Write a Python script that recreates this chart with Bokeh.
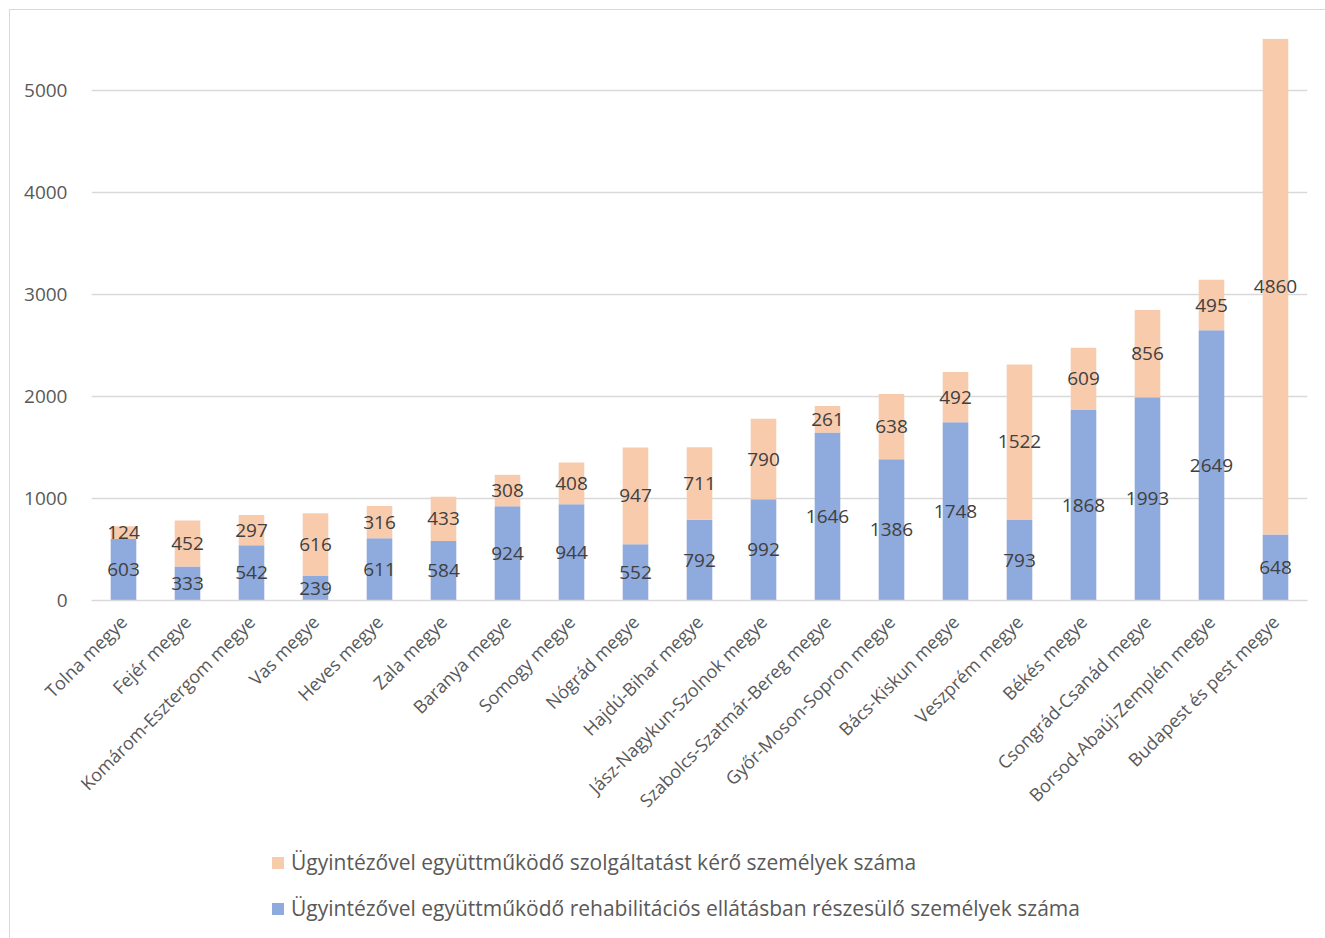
import math
from bokeh.plotting import figure
from bokeh.layouts import column
from bokeh.models import Legend, LegendItem, Range1d, SingleIntervalTicker, ColumnDataSource
from bokeh.embed import file_html
from bokeh.resources import INLINE
from bokeh.core.properties import value

counties = [
    "Tolna megye", "Fejér megye", "Komárom-Esztergom megye", "Vas megye",
    "Heves megye", "Zala megye", "Baranya megye", "Somogy megye",
    "Nógrád megye", "Hajdú-Bihar megye", "Jász-Nagykun-Szolnok megye",
    "Szabolcs-Szatmár-Bereg megye", "Győr-Moson-Sopron megye",
    "Bács-Kiskun megye", "Veszprém megye", "Békés megye",
    "Csongrád-Csanád megye", "Borsod-Abaúj-Zemplén megye",
    "Budapest és pest megye",
]
rehab = [603, 333, 542, 239, 611, 584, 924, 944, 552, 792, 992, 1646, 1386,
         1748, 793, 1868, 1993, 2649, 648]
service = [124, 452, 297, 616, 316, 433, 308, 408, 947, 711, 790, 261, 638,
           492, 1522, 609, 856, 495, 4860]

name_service = "Ügyintézővel együttműködő szolgáltatást kérő személyek száma"
name_rehab = "Ügyintézővel együttműködő rehabilitációs ellátásban részesülő személyek száma"

BLUE = "#8faadc"
ORANGE = "#f8cbad"
FONT = "Open Sans"
W = 1316

src = ColumnDataSource(dict(
    county=counties,
    rehab=rehab,
    service=service,
    rehab_mid=[r / 2 for r in rehab],
    service_mid=[r + s / 2 for r, s in zip(rehab, service)],
    rehab_txt=[str(v) for v in rehab],
    service_txt=[str(v) for v in service],
))

# ---------------- main chart ----------------
p = figure(
    x_range=counties, y_range=Range1d(0, 5510),
    width=W, height=820,
    output_backend="svg", toolbar_location=None,
    min_border_left=81, min_border_right=19, min_border_top=28,
    min_border_bottom=230,
)
p.outline_line_color = None
p.background_fill_color = "white"
p.border_fill_color = "white"

r = p.vbar_stack(["rehab", "service"], x="county", width=0.4,
                 color=[BLUE, ORANGE], line_color=None, source=src)

p.text(x="county", y="rehab_mid", text="rehab_txt", source=src,
       text_align="center", text_baseline="middle",
       text_font=value(FONT), text_font_size="19px", text_color="#404040")
p.text(x="county", y="service_mid", text="service_txt", source=src,
       text_align="center", text_baseline="middle",
       text_font=value(FONT), text_font_size="19px", text_color="#404040")

p.xgrid.grid_line_color = None
p.ygrid.grid_line_color = "#d9d9d9"
p.ygrid.grid_line_width = 1.3
p.yaxis.ticker = SingleIntervalTicker(interval=1000)
p.yaxis.axis_line_color = None
p.yaxis.major_tick_line_color = None
p.yaxis.minor_tick_line_color = None
p.yaxis.major_label_text_font = FONT
p.yaxis.major_label_text_font_size = "19px"
p.yaxis.major_label_text_color = "#595959"
p.yaxis.major_label_standoff = 18

p.xaxis.axis_line_color = "#d9d9d9"
p.xaxis.axis_line_width = 1.3
p.xaxis.major_tick_line_color = None
p.xaxis.minor_tick_line_color = None
p.xaxis.major_label_orientation = math.pi / 4
p.xaxis.major_label_text_font = FONT
p.xaxis.major_label_text_font_size = "18px"
p.xaxis.major_label_text_color = "#595959"
p.xaxis.major_label_standoff = 12
p.x_range.range_padding = 0.0

# ---------------- legend strip ----------------
lg = figure(
    x_range=Range1d(0, 1), y_range=Range1d(0, 1),
    width=W, height=109,
    output_backend="svg", toolbar_location=None,
    x_axis_type=None, y_axis_type=None,
    min_border_left=0, min_border_right=0, min_border_top=0, min_border_bottom=0,
)
lg.outline_line_color = None
lg.grid.visible = False
lg.background_fill_color = "white"
lg.border_fill_color = "white"
sw_service = lg.vbar(x=[-5], top=[-5], bottom=[-6], width=0.1,
                     color=ORANGE, line_color=None)
sw_rehab = lg.vbar(x=[-5], top=[-5], bottom=[-6], width=0.1,
                   color=BLUE, line_color=None)

legend = Legend(
    items=[LegendItem(label=name_service, renderers=[sw_service]),
           LegendItem(label=name_rehab, renderers=[sw_rehab])],
    orientation="vertical", location=(179, 17),
    label_text_font=FONT, label_text_font_size="21px", label_text_color="#595959",
    glyph_width=15, glyph_height=15, label_height=28, label_standoff=6, spacing=18,
    border_line_color=None, background_fill_alpha=0,
    margin=0, padding=5,
)
lg.add_layout(legend, "center")

layout = column(p, lg, spacing=0)
layout.margin = (9, 0, 0, 9)
layout.styles = {"border-top": "1px solid #d9d9d9", "border-left": "1px solid #d9d9d9"}

open("out.html", "w").write(file_html(layout, INLINE))
